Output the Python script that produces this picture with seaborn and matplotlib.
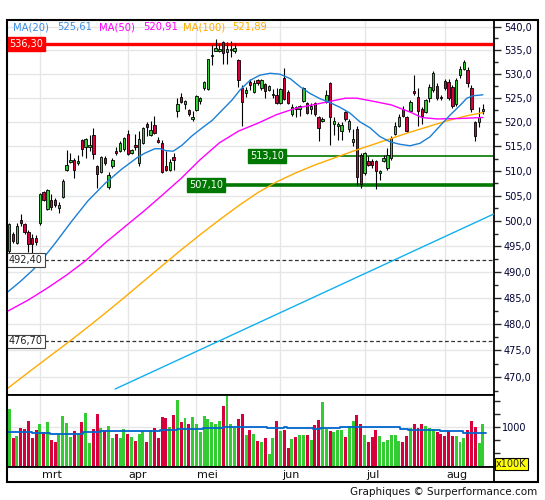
import numpy as np
import matplotlib
matplotlib.use('Agg')
import matplotlib.pyplot as plt
from matplotlib.ticker import FixedLocator, FuncFormatter, NullFormatter
from matplotlib.patches import Rectangle
import seaborn as sns

sns.set_style("white")
plt.rcParams['font.family'] = ['DejaVu Sans']

# daily candles, oldest first
opens = [494.0, 497.4, 495.7, 500.1, 499.4, 497.8, 496.7, 496.7, 499.5, 505.7,
         502.4, 504.2, 504.2, 502.6, 504.8, 510.2, 511.8, 512.2, 511.6, 516.2,
         514.8, 514.8, 517.2, 511.0, 509.8, 512.6, 506.7, 511.0, 514.0, 514.0,
         514.4, 517.6, 513.6, 515.2, 511.6, 515.6, 519.6, 517.4, 519.4, 516.2,
         515.6, 511.0, 510.2, 512.8, 522.2, 525.2, 523.6, 522.4, 520.6, 522.4,
         524.4, 527.0, 526.8, 533.8, 534.9, 534.9, 536.6, 534.5, 535.1, 534.9,
         532.8, 527.0, 526.0, 528.2, 526.2, 528.6, 527.0, 527.8, 526.6, 525.5,
         525.6, 524.0, 529.2, 526.2, 521.6, 523.0, 522.6, 524.4, 524.0, 522.6,
         524.0, 521.0, 520.2, 524.2, 528.0, 519.6, 519.2, 518.2, 522.0, 518.6,
         515.8, 518.6, 513.2, 509.6, 512.0, 512.0, 512.0, 509.6, 512.0, 510.6,
         512.6, 517.6, 519.2, 522.6, 521.0, 522.2, 526.4, 525.2, 522.6, 522.0,
         525.0, 526.6, 527.4, 525.2, 528.4, 528.2, 527.2, 523.6, 529.7, 531.1,
         530.7, 527.0, 520.0, 520.0, 522.2]
highs = [499.6, 497.8, 499.5, 501.3, 499.5, 498.3, 497.4, 497.3, 505.6, 506.0,
         506.3, 505.3, 504.6, 503.8, 508.3, 514.2, 513.6, 512.6, 513.2, 516.4,
         516.6, 517.2, 518.8, 511.2, 513.0, 513.0, 509.8, 512.6, 514.8, 516.0,
         516.8, 518.4, 514.4, 517.6, 518.2, 519.0, 520.0, 520.2, 521.2, 516.8,
         516.2, 514.0, 512.4, 513.6, 525.0, 526.0, 524.6, 522.6, 522.2, 525.6,
         525.2, 528.4, 533.2, 536.0, 537.4, 536.4, 537.0, 536.6, 537.0, 536.4,
         533.2, 527.6, 527.2, 529.0, 528.6, 529.0, 529.0, 528.0, 527.6, 526.8,
         527.0, 527.0, 531.3, 526.6, 523.6, 523.2, 523.4, 527.2, 524.2, 524.0,
         524.2, 521.2, 521.0, 526.6, 528.2, 521.0, 520.0, 520.0, 522.2, 520.6,
         518.6, 519.2, 513.6, 513.8, 513.0, 512.4, 512.2, 510.2, 513.2, 514.6,
         517.0, 520.0, 521.6, 523.2, 521.2, 524.6, 529.7, 527.0, 523.0, 524.8,
         527.8, 530.5, 528.0, 525.6, 529.0, 529.0, 527.6, 529.2, 531.7, 532.8,
         531.5, 527.6, 520.2, 523.0, 523.6]
lows = [493.0, 495.7, 495.5, 499.0, 497.4, 493.8, 493.6, 495.2, 499.2, 504.0,
        502.2, 502.2, 502.8, 501.5, 504.6, 510.0, 511.6, 508.6, 511.2, 513.1,
        512.6, 514.0, 512.4, 506.5, 509.6, 511.2, 506.3, 510.6, 513.2, 513.8,
        514.0, 513.2, 513.4, 514.2, 511.0, 515.4, 517.0, 517.0, 517.6, 515.6,
        509.6, 510.0, 510.0, 510.2, 521.0, 524.0, 522.6, 521.2, 520.2, 522.2,
        523.6, 526.6, 526.6, 531.8, 534.8, 534.5, 532.1, 532.1, 533.6, 534.3,
        527.3, 519.2, 525.2, 526.6, 526.0, 527.6, 526.6, 525.0, 526.4, 525.0,
        523.6, 523.6, 524.6, 523.6, 521.2, 521.0, 521.2, 524.2, 521.6, 521.6,
        521.2, 516.0, 520.0, 524.0, 515.2, 517.2, 516.2, 516.2, 520.2, 518.0,
        515.0, 507.1, 506.5, 509.2, 511.0, 510.6, 506.3, 508.1, 511.8, 510.2,
        512.2, 517.2, 519.0, 521.0, 518.0, 522.0, 525.6, 519.2, 519.6, 521.8,
        524.2, 526.2, 524.6, 524.6, 526.6, 524.6, 522.8, 523.2, 529.2, 530.7,
        527.2, 522.0, 516.0, 519.0, 521.6]
closes = [499.4, 496.1, 499.0, 499.5, 497.8, 495.5, 495.5, 495.8, 505.3, 504.2,
          506.1, 502.8, 503.2, 503.2, 507.9, 511.2, 512.2, 510.2, 512.0, 514.4,
          516.4, 515.2, 513.4, 509.4, 512.8, 511.6, 509.2, 512.2, 513.6, 515.6,
          516.6, 513.4, 514.2, 514.8, 516.4, 518.8, 519.0, 518.4, 517.8, 515.8,
          509.8, 510.2, 511.8, 512.2, 523.6, 524.2, 524.4, 521.6, 521.0, 525.4,
          525.0, 528.2, 533.0, 534.0, 535.5, 535.3, 534.3, 535.3, 535.3, 535.5,
          528.6, 524.2, 526.6, 527.6, 528.0, 528.0, 528.6, 526.4, 527.4, 525.8,
          524.0, 526.8, 524.8, 524.0, 523.0, 522.6, 523.2, 527.0, 521.8, 523.2,
          521.6, 518.8, 520.6, 525.6, 521.0, 520.2, 519.6, 519.4, 520.6, 520.2,
          516.4, 508.8, 507.3, 513.6, 511.2, 511.2, 510.0, 510.0, 512.6, 513.2,
          516.6, 519.2, 521.0, 521.2, 518.2, 524.2, 526.0, 522.2, 521.2, 524.6,
          527.2, 530.1, 525.0, 525.0, 527.0, 525.0, 523.2, 528.6, 531.1, 532.4,
          528.0, 522.6, 517.0, 521.0, 522.6]
# volume in units of 100K
volumes = [1281, 833, 864, 984, 969, 1094, 844, 953, 1047, 922,
           1078, 813, 781, 906, 1172, 1062, 859, 938, 906, 1078,
           1218, 766, 969, 1203, 984, 953, 1016, 844, 906, 844,
           969, 906, 859, 797, 906, 938, 781, 953, 984, 844,
           1156, 1140, 1000, 1188, 1421, 1078, 1140, 1047, 1156, 1047,
           922, 1172, 1125, 1078, 1047, 1094, 1328, 1490, 1047, 984,
           1125, 1203, 891, 953, 906, 797, 781, 844, 594, 844,
           1094, 938, 953, 688, 828, 859, 891, 891, 891, 813,
           1031, 1109, 1395, 979, 938, 931, 953, 964, 859, 1016,
           1094, 1187, 1047, 891, 771, 859, 964, 875, 771, 813,
           891, 891, 797, 771, 875, 989, 1047, 989, 1047, 1016,
           989, 979, 927, 901, 875, 943, 865, 865, 781, 833,
           953, 1094, 1005, 755, 1047]

month_names = ['mrt', 'apr', 'mei', 'jun', 'jul', 'aug']
month_start = [8, 31, 49, 71, 93, 114]
month_label_pos = [11.2, 33.7, 52.0, 73.7, 95.3, 117.3]

# moving averages (bar index, value)
ma20_x = [-0.3, 2.8, 6.2, 8.5, 12.0, 16.4, 20.6, 25.1, 29.5, 31.6, 33.5, 35.5, 38.1,
          39.5, 41.0, 42.9, 45.2, 47.8, 50.4, 53.1, 55.7, 58.3, 60.4, 63.0, 65.6, 68.3,
          70.9, 73.5, 76.1, 78.7, 81.3, 83.9, 86.6, 89.2, 91.8, 94.4, 97.0, 99.7,
          102.3, 104.9, 107.5, 110.1, 112.8, 115.4, 118.0, 119.8, 121.4, 124.0]
ma20_y = [486.2, 488.1, 490.4, 492.3, 495.6, 500.0, 504.0, 507.5, 510.4, 511.6,
          512.7, 513.6, 514.5, 514.5, 514.1, 514.0, 515.2, 517.1, 518.7, 520.3,
          522.4, 524.5, 526.6, 528.6, 529.7, 530.1, 529.9, 529.0, 527.3, 525.9,
          524.8, 524.0, 523.0, 521.8, 520.0, 518.8, 517.0, 515.9, 515.4, 515.1,
          515.6, 516.9, 519.2, 521.4, 523.4, 524.9, 525.4, 525.6]
ma50_x = [-0.3, 5, 10, 15, 20, 25, 30, 35, 40, 45, 50, 55, 60, 65, 70, 75, 80,
          85, 88, 91, 95, 100, 105, 108, 112, 118, 124]
ma50_y = [482.5, 484.6, 486.9, 489.4, 492.2, 495.6, 498.7, 501.8, 505.1, 508.5,
          512.3, 515.7, 518.1, 519.7, 521.5, 522.8, 523.6, 524.4, 524.9, 524.9,
          524.3, 523.5, 522.0, 520.9, 520.6, 520.7, 520.9]
ma100_x = [-0.3, 5, 10, 15, 20, 25, 30, 35, 40, 45, 50, 55, 60, 65, 70, 75, 80,
           85, 90, 95, 100, 105, 110, 115, 120, 124]
ma100_y = [468.0, 470.9, 473.6, 476.3, 479.1, 482.0, 485.0, 488.1, 491.2, 494.3,
           497.3, 500.2, 503.0, 505.6, 507.8, 509.6, 511.2, 512.6, 514.0, 515.3,
           516.6, 517.9, 519.1, 520.3, 521.3, 521.9]
trend_x = [27.7, 126.9]
trend_y = [467.8, 501.4]
vma_x = [-0.3, 5.9, 10.7, 19.4, 23.7, 39.5, 43.8, 50.8, 56.0, 67.4, 71.8, 72.6,
         79.6, 81.3, 86.6, 102.3, 104.5, 112.7, 118.9, 124.7]
vma_y = [929, 914, 898, 923, 945, 965, 975, 991, 1006, 991, 1006, 991,
         980, 991, 1006, 975, 954, 938, 914, 914]

levels_box = [536.30, 513.10, 507.10, 492.40, 476.70]

legend_names = ['MA(20)', '525,61', 'MA(50)', '520,91', 'MA(100)', '521,89']
legend_colors = ['#3a8ee6', '#3a8ee6', '#ff00ff', '#ff00ff', '#ffaa00', '#ffaa00']
legend_px = [13, 57, 99, 143, 183, 232]

W, H = 545, 500
GREEN = '#33cc33'
RED = '#d8003c'
GRID = '#e6e6e6'


def box(x0, y0, x1, y1):
    return [x0 / W, 1 - y1 / H, (x1 - x0) / W, (y1 - y0) / H]


def fmt_price(v, pos=None):
    return f"{v:.1f}".replace('.', ',')


def fmt_level(v):
    return f"{v:.2f}".replace('.', ',')


fig = plt.figure(figsize=(W / 100, H / 100), dpi=100)
ax = fig.add_axes(box(7, 20, 494, 395))
axv = fig.add_axes(box(7, 395, 494, 467))
axd = fig.add_axes(box(7, 467, 494, 482))

x = np.arange(len(closes))
o = np.array(opens)
c = np.array(closes)
up = c >= o
colors = [GREEN if u else RED for u in up]
xlim = (-0.6, 126.9)

# ---- price panel
ax.set_yscale('log')
ax.set_xlim(*xlim)
ax.set_ylim(466.7, 541.4)
major = np.arange(470, 541, 5)
minor = np.arange(467.5, 541, 5)
ax.yaxis.set_major_locator(FixedLocator(major))
ax.yaxis.set_minor_locator(FixedLocator(minor))
ax.yaxis.set_major_formatter(FuncFormatter(fmt_price))
ax.yaxis.set_minor_formatter(NullFormatter())
ax.yaxis.tick_right()
ax.tick_params(axis='y', which='major', length=5, width=1, labelsize=7,
               pad=2, labelcolor='#000033', right=True, left=False)
ax.tick_params(axis='y', which='minor', length=3, width=1, right=True, left=False)
ax.tick_params(axis='x', which='both', bottom=False, labelbottom=False)
for v in major:
    ax.axhline(v, color=GRID, lw=1, zorder=0)
for m in month_start:
    ax.axvline(m, color=GRID, lw=1, zorder=0)

ax.axhline(levels_box[0], color='#ff0000', lw=2.4, zorder=2)
ax.hlines(levels_box[1], 62.5, xlim[1], color='#007700', lw=1.2, zorder=2)
ax.hlines(levels_box[2], 46.5, xlim[1], color='#007700', lw=2.6, zorder=2)
for lv in levels_box[3:]:
    ax.axhline(lv, color='#333333', lw=0.9, ls=(0, (3, 2)), zorder=2)

ax.vlines(x, lows, highs, color='black', lw=0.8, zorder=3)
ax.bar(x, np.maximum(np.abs(c - o), 0.15), bottom=np.minimum(o, c), width=0.62,
       color=colors, edgecolor='black', linewidth=0.6, zorder=4)

sns.lineplot(x=ma100_x, y=ma100_y, ax=ax, color='#ffaa00', lw=1, estimator=None, sort=False, zorder=5)
sns.lineplot(x=ma50_x, y=ma50_y, ax=ax, color='#ff00ff', lw=1, estimator=None, sort=False, zorder=5)
sns.lineplot(x=ma20_x, y=ma20_y, ax=ax, color='#1a7fd6', lw=1, estimator=None, sort=False, zorder=5)
sns.lineplot(x=trend_x, y=trend_y, ax=ax, color='#10b0f0', lw=1, estimator=None, sort=False, zorder=5)
ax.set_xlabel('')
ax.set_ylabel('')

lab = dict(ha='left', va='center', fontsize=7, zorder=6, clip_on=False)
ax.text(-0.1, levels_box[0], fmt_level(levels_box[0]), color='white',
        bbox=dict(boxstyle='square,pad=0.2', fc='#ff0000', ec='#ff0000'), **lab)
ax.text(63.0, levels_box[1], fmt_level(levels_box[1]), color='white',
        bbox=dict(boxstyle='square,pad=0.2', fc='#007700', ec='#007700'), **lab)
ax.text(47.0, levels_box[2], fmt_level(levels_box[2]), color='white',
        bbox=dict(boxstyle='square,pad=0.2', fc='#007700', ec='#007700'), **lab)
for lv in levels_box[3:]:
    ax.text(-0.1, lv, fmt_level(lv), color='#222222',
            bbox=dict(boxstyle='square,pad=0.2', fc='white', ec='#444444', lw=0.8), **lab)

# ---- volume panel
axv.set_xlim(*xlim)
axv.set_ylim(390, 1500)
for m in month_start:
    axv.axvline(m, color=GRID, lw=1, zorder=0)
axv.axhline(1000, color=GRID, lw=1, zorder=0)
axv.bar(x, volumes, width=0.78, color=colors, linewidth=0, zorder=2)
sns.lineplot(x=vma_x, y=vma_y, ax=axv, color='#0066cc', lw=1.3, estimator=None,
             sort=False, drawstyle='steps-post', zorder=3)
axv.set_xlabel('')
axv.set_ylabel('')
axv.yaxis.set_major_locator(FixedLocator([600, 800, 1000, 1200, 1400]))
axv.yaxis.set_major_formatter(FuncFormatter(lambda v, p: '1000' if v == 1000 else ''))
axv.yaxis.tick_right()
axv.tick_params(axis='y', length=4, width=1, labelsize=7, pad=2, labelcolor='#000033',
                right=True, left=False)
axv.tick_params(axis='x', which='both', bottom=False, labelbottom=False)

# ---- date strip
axd.set_xlim(*xlim)
axd.set_ylim(0, 1)
axd.set_xticks([])
axd.set_yticks([])
for pos, name in zip(month_label_pos, month_names):
    axd.text(pos, 0.45, name, ha='center', va='center', fontsize=8, color='#111111')

for a in (ax, axv, axd):
    for s in a.spines.values():
        s.set_color('black')
        s.set_linewidth(1.3)

fig.add_artist(Rectangle((7 / W, 1 - 482 / H), (538 - 7) / W, (482 - 20) / H,
                         transform=fig.transFigure, fill=False, ec='black', lw=1.5))

for name, col, px in zip(legend_names, legend_colors, legend_px):
    fig.text(px / W, 1 - 27 / H, name, color=col, fontsize=7.2, ha='left', va='center')

fig.text(496 / W, 1 - 464 / H, 'x100K', ha='left', va='center', fontsize=7,
         bbox=dict(boxstyle='square,pad=0.15', fc='#ffff00', ec='black', lw=0.8))
fig.text(537 / W, 1 - 492 / H, 'Graphiques \u00a9 Surperformance.com', ha='right',
         va='center', fontsize=7.5, color='#111111')

fig.savefig('out.png', dpi=100)
